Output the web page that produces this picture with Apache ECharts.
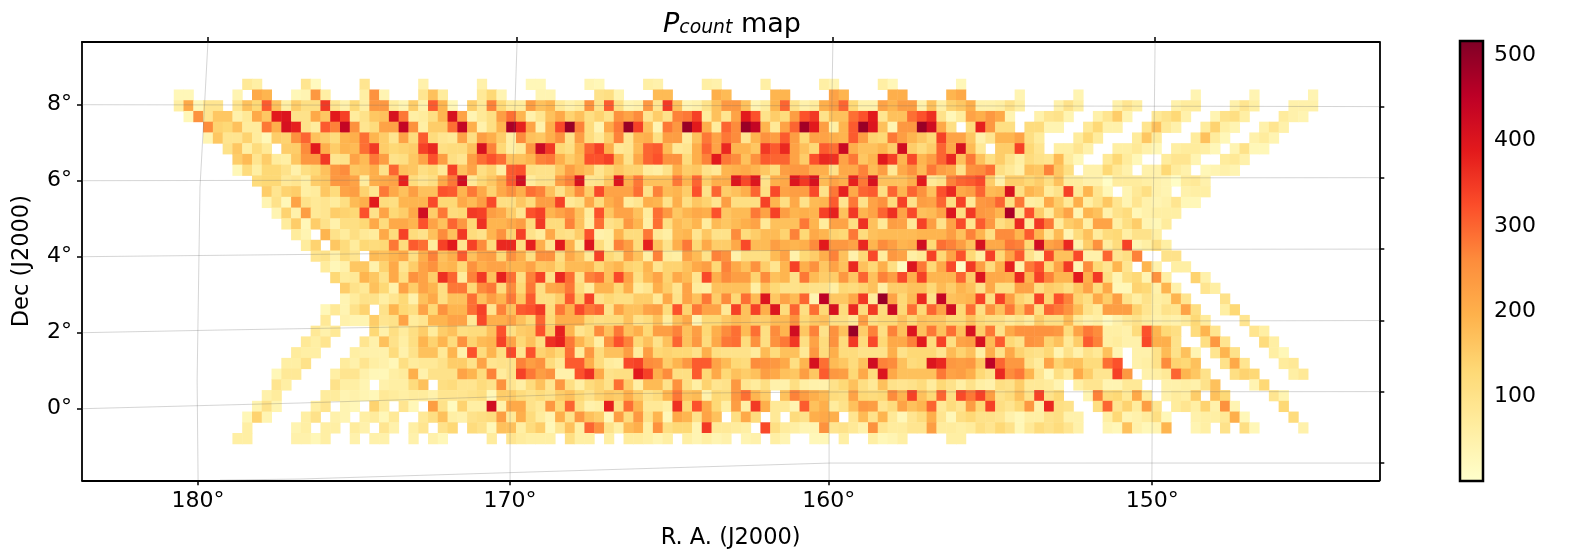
<!DOCTYPE html>
<html>
<head>
<meta charset="utf-8">
<script src="https://cdn.jsdelivr.net/npm/echarts@6/dist/echarts.min.js"></script>
<style>html,body{margin:0;background:#fff}#container{width:1577px;height:560px}</style>
</head>
<body>
<div id="container"></div>
<script>
// counts per map pixel, one list per row from the top, each starting at rowFirstColumn[row]
var rowFirstColumn = [7,0,0,1,3,3,5,6,6,8,9,9,10,11,12,13,14,15,16,17,17,15,15,14,13,12,11,10,10,9,8,7,7,6];
var row00 = [80,60,0,0,0,0,90,20,0,0,0,0,90,0,0,0,0,0,50,0,0,0,0,0,50,0,0,0,0,30,30,0,0,0,0,40,30,0,0,0,0,60,50,0,0,0,0,60,50,0,0,0,0,60,0,0,0,0,0,60,40,0,0,0,0,60,30,0,0,0,0,0,0,30];
var row01 = [30,30,0,0,0,0,40,0,210,190,0,0,30,40,240,60,0,0,0,60,250,40,0,0,0,90,170,70,0,0,0,80,130,40,0,0,0,40,40,0,0,0,0,100,110,40,0,0,0,180,180,0,0,0,0,200,180,0,0,0,0,190,190,0,0,0,0,220,190,0,0,0,0,200,200,0,0,0,0,190,210,0,0,0,0,0,40,0,0,0,0,0,40,0,0,0,0,0,0,0,0,0,0,0,40,0,0,0,0,0,40,0,0,0,0,0,40];
var row02 = [60,210,30,90,90,0,90,170,130,310,170,60,150,110,110,350,90,50,130,60,240,240,70,40,150,50,310,190,30,0,150,80,270,130,70,70,230,170,190,80,50,70,250,100,310,110,40,50,240,90,350,170,40,50,100,170,240,240,170,40,70,190,300,100,50,70,200,230,300,130,50,50,220,190,230,230,50,170,60,140,160,200,50,50,60,100,60,0,0,0,50,100,60,0,0,0,50,90,60,0,0,0,50,70,70,0,0,0,50,90,60,0,0,0,50,50,50];
var row03 = [30,250,90,160,160,50,80,210,160,390,400,100,100,210,160,390,340,70,100,160,170,410,280,60,70,110,190,410,220,40,80,110,230,290,190,50,90,170,210,140,170,110,140,100,250,220,260,90,150,100,270,280,340,70,170,90,220,390,320,100,150,120,230,320,350,100,170,170,290,320,390,90,170,170,290,320,360,100,30,70,220,200,240,210,40,0,0,50,90,100,40,0,0,50,90,150,40,0,0,80,100,130,50,0,0,40,100,110,60,0,0,0,70,50,40];
var row04 = [260,140,130,170,70,70,280,200,410,380,100,70,310,270,440,250,90,120,220,220,440,250,60,150,150,290,440,200,50,110,190,470,380,220,50,200,330,490,270,120,40,210,280,490,340,170,40,280,240,490,390,200,70,300,260,490,440,190,80,220,300,480,390,230,60,190,310,490,400,170,40,240,240,490,420,210,110,0,120,380,240,110,110,0,120,120,40,40,0,0,80,130,50,50,0,0,90,170,80,50,0,0,70,140,60,40,0,0,50,90,50];
var row05 = [40,160,90,90,140,70,30,150,140,250,300,170,150,120,190,200,290,190,150,90,220,120,310,120,90,80,220,110,230,200,150,60,260,170,160,200,250,100,230,120,80,150,270,90,190,200,110,230,230,70,170,280,220,280,260,90,190,250,230,310,230,130,220,220,200,190,310,230,140,130,280,230,190,160,130,340,220,220,160,50,90,190,190,220,110,70,0,0,0,70,130,70,0,0,0,70,160,70,0,0,0,70,170,70,30,0,0,50,70,40];
var row06 = [100,160,60,120,80,0,150,150,260,390,200,150,190,180,290,350,150,130,140,150,340,370,110,120,120,170,410,270,130,60,80,240,430,350,130,110,190,300,340,200,80,90,180,300,310,180,80,90,200,300,220,370,190,190,160,350,310,370,220,170,130,310,290,430,200,170,170,190,150,420,150,120,150,300,210,410,180,80,0,150,150,340,130,90,0,60,60,90,50,0,0,60,60,80,50,30,0,60,70,70,60,30,0,40,100,30,30];
var row07 = [150,180,90,150,70,60,160,240,240,350,90,100,220,180,280,230,100,110,160,220,320,230,110,90,230,290,320,290,170,170,190,270,280,200,150,180,320,320,340,190,100,210,300,320,250,250,120,200,270,390,280,260,170,250,310,300,300,220,150,320,370,360,220,280,160,190,390,340,190,330,190,230,300,370,170,280,170,110,150,100,60,120,100,90,180,70,30,0,0,80,130,70,30,0,0,70,90,90,40,0,0,70,80,50];
var row08 = [30,120,60,130,130,100,50,110,130,170,240,260,160,170,200,100,300,170,160,110,130,80,340,170,220,110,140,60,310,320,110,100,100,160,230,190,170,90,130,160,140,140,70,60,100,200,150,160,100,80,190,200,210,190,160,120,230,240,240,200,200,100,210,210,270,180,230,80,210,250,180,280,230,210,100,250,260,290,110,80,50,170,160,270,160,110,0,50,50,130,80,50,0,50,50,130,70,50,0,30,40,50,40];
var row09 = [120,130,130,80,90,60,150,160,240,240,220,70,200,210,220,380,120,90,110,210,280,420,80,130,160,210,310,420,70,100,100,230,270,410,90,100,160,400,200,280,170,170,170,280,190,300,150,200,200,400,330,400,100,200,210,400,350,410,180,220,200,380,280,410,170,170,170,200,390,80,100,270,300,310,330,150,50,150,150,130,150,110,170,70,70,50,50,10,70,70,70,60,50,40,10,70,80,50];
var row10 = [150,90,140,150,60,70,160,120,220,230,140,90,280,210,170,230,170,170,320,310,190,280,210,140,210,250,200,290,270,170,100,170,260,150,330,220,220,220,290,100,270,180,190,150,320,100,300,150,170,200,300,110,330,220,230,230,330,100,280,380,210,300,310,110,300,190,300,250,170,320,370,210,230,300,180,190,410,110,190,170,70,100,340,80,190,90,30,0,40,80,110,50,40,0,50,60,60];
var row11 = [40,100,30,220,100,80,90,70,110,180,200,390,120,110,190,190,190,330,130,130,210,180,230,330,110,110,160,120,230,230,340,80,100,210,120,200,230,70,90,200,190,100,200,110,160,140,90,230,110,110,110,340,190,110,210,100,180,190,310,90,280,100,220,250,120,340,100,230,220,300,110,340,80,240,250,300,110,280,60,70,210,150,80,200,60,100,160,90,40,90,50,40,50,90,30,30];
var row12 = [40,140,50,230,80,90,150,140,130,320,100,220,130,150,210,420,150,280,120,130,350,340,230,210,150,90,320,340,190,220,250,170,70,320,160,220,220,170,70,290,240,160,190,210,200,320,160,180,180,280,220,340,230,190,200,190,340,380,170,350,190,220,300,360,220,330,170,180,220,400,110,350,240,230,190,470,90,320,150,70,170,220,40,190,170,50,100,120,30,50,60,60,60];
var row13 = [70,150,30,150,100,50,110,110,130,210,120,210,210,190,320,220,170,300,240,130,360,190,190,210,230,120,350,120,120,270,170,60,290,100,120,240,190,60,290,110,180,160,190,70,180,160,180,200,220,80,170,170,170,280,190,70,220,220,110,360,170,80,230,220,80,340,230,100,220,330,90,310,240,110,140,370,70,350,280,70,150,170,60,220,220,60,110,150,40,30,70];
var row14 = [70,40,0,190,100,70,110,80,70,210,120,340,120,100,170,260,170,350,120,100,190,250,140,340,100,70,210,110,100,150,320,50,60,190,120,120,280,80,60,180,190,90,160,100,100,260,120,150,180,180,140,270,130,210,190,140,130,280,120,170,180,180,180,180,190,190,190,230,170,270,190,110,260,260,190,310,190,90,180,40,120,170,70,120,130,60,100,100,60];
var row15 = [70,140,0,160,120,70,130,120,130,280,120,310,290,70,340,390,90,340,260,120,370,370,110,380,200,90,390,200,70,400,120,60,270,230,120,380,170,100,200,280,130,210,150,150,210,330,180,180,230,200,190,200,260,390,240,240,220,370,190,260,230,190,200,420,130,290,270,230,170,410,210,210,280,270,130,420,220,240,370,50,150,250,70,120,340,40,60,110,60];
var row16 = [90,100,50,120,90,0,180,170,190,210,110,200,270,170,200,310,170,220,230,130,250,200,110,250,250,110,210,170,80,340,130,100,230,170,60,270,70,60,220,180,100,270,250,50,110,110,110,180,220,50,130,150,200,270,170,50,130,330,70,240,220,60,80,340,130,220,320,130,60,340,130,220,310,100,50,330,170,170,330,50,50,300,90,110,270,0,0,100,100];
var row17 = [70,30,50,160,160,50,140,210,90,150,220,250,180,190,130,250,200,220,220,190,190,220,160,170,130,180,180,190,130,170,190,140,130,190,90,140,140,170,210,230,130,270,210,170,250,150,90,190,340,200,250,160,220,170,370,170,130,200,110,20,400,280,130,210,330,10,350,230,120,200,380,50,280,320,130,220,350,40,260,130,90,190,90,0,190,50,0,60,60];
var row18 = [130,70,80,190,160,100,210,110,250,220,150,360,300,70,270,350,170,380,290,110,270,340,100,370,290,100,270,290,170,330,220,110,180,220,140,210,180,90,330,200,260,230,230,140,260,170,190,100,280,180,150,150,240,160,300,170,270,230,330,200,340,190,190,190,300,150,400,210,210,200,370,190,340,270,190,190,390,200,350,110,40,110,130,40,250,60,0,0,140,50];
var row19 = [150,100,80,170,130,50,220,150,220,190,110,280,280,130,260,280,120,260,130,280,110,210,220,280,120,70,190,190,130,200,70,90,200,150,90,220,70,60,170,170,170,170,60,170,130,100,100,110,100,100,60,130,120,140,170,60,150,150,170,170,130,180,150,190,170,100,210,110,110,220,220,110,150,140,110,160,220,120,210,30,30,140,130,50,190,50,0,0,90,60];
var row20 = [40,70,100,100,60,90,130,50,170,210,110,170,170,290,170,230,190,280,160,310,110,110,150,310,150,340,100,130,110,110,150,150,80,210,100,220,170,280,150,260,130,290,180,400,160,220,180,300,40,450,160,160,210,350,70,490,220,130,180,370,100,440,170,180,190,340,110,340,230,140,110,340,140,320,270,140,110,210,150,230,100,60,100,60,70,190,90,0,0,0,100];
var row21 = [30,80,40,100,140,0,100,190,130,110,220,130,250,190,190,290,340,90,270,170,310,320,350,120,280,200,330,280,300,100,220,170,170,220,230,120,320,140,280,220,220,80,340,170,340,200,400,120,300,110,290,130,410,120,370,120,350,120,430,130,290,130,300,220,420,130,290,110,250,170,280,170,280,110,300,280,250,180,100,70,230,230,230,140,90,60,100,90,220,110,0,0,60,130];
var row22 = [80,0,50,40,40,150,90,100,220,70,90,190,190,220,220,80,330,200,200,220,170,130,300,130,200,200,200,130,110,120,120,170,100,120,170,70,170,210,40,130,130,160,180,170,150,150,180,180,250,130,160,170,110,110,80,230,110,130,130,170,130,170,160,160,130,130,170,130,110,110,80,100,70,150,110,110,180,80,50,60,20,50,80,100,70,50,60,50,70,130,70,0,0,0,90];
var row23 = [80,50,80,0,0,0,130,50,110,70,110,150,70,150,170,110,120,120,170,320,110,150,160,320,150,380,190,90,120,260,170,280,170,200,130,230,230,270,170,230,130,200,260,290,180,290,110,260,190,420,160,270,100,250,170,490,150,270,110,270,170,400,170,280,170,290,170,410,150,280,100,210,250,250,250,250,240,120,220,280,260,60,60,50,120,320,190,130,110,0,120,190,90,0,0,0,90,60];
var row24 = [80,60,90,0,0,0,90,50,170,100,60,110,190,140,190,120,250,140,180,190,340,220,130,170,110,360,380,280,190,140,60,250,320,270,130,170,100,170,300,170,240,120,210,280,290,120,250,110,250,280,350,110,220,120,250,120,350,120,330,130,210,210,270,390,120,340,110,220,230,410,180,310,130,100,250,240,140,170,80,150,310,270,60,70,50,50,330,200,200,100,0,0,110,240,90,0,0,0,120,60];
var row25 = [70,60,60,0,0,0,60,50,50,50,120,50,100,170,170,80,190,50,320,120,190,110,330,90,320,140,160,130,290,70,240,120,170,170,230,70,230,130,140,130,130,100,200,110,100,100,100,70,180,120,170,170,80,240,120,200,120,120,100,100,100,200,100,130,130,130,90,180,140,170,60,200,100,210,140,110,100,130,40,100,50,100,80,170,40,0,50,50,100,180,100,170,40,0,90,190,100,0,0,0,60,30];
var row26 = [60,60,100,0,0,0,70,50,90,60,50,30,110,70,80,80,100,150,150,100,220,90,100,100,270,230,250,120,80,310,310,200,120,70,60,330,340,260,250,150,190,240,310,310,220,180,130,120,260,250,240,210,110,190,410,290,180,160,120,170,420,270,260,170,120,130,400,370,240,230,240,160,450,300,240,240,100,70,220,140,170,170,120,120,290,320,0,50,60,100,260,140,130,170,0,0,100,210,90,0,0,0,70,80];
var row27 = [30,80,80,0,0,0,60,90,90,50,30,30,60,70,200,50,100,100,100,220,190,120,270,70,100,340,280,230,250,50,50,320,360,210,100,110,110,390,340,200,260,110,110,310,130,210,130,170,150,170,230,210,170,160,230,160,310,240,230,130,210,120,400,210,170,170,170,170,280,220,230,200,130,100,370,260,280,190,90,30,110,70,210,150,90,90,340,240,0,50,60,80,300,190,160,100,0,0,110,140,130,0,0,0,60,80];
var row28 = [90,60,0,0,0,0,100,60,60,40,0,50,60,60,120,170,0,110,120,90,90,120,100,250,90,60,120,170,90,240,110,60,120,140,100,290,150,60,180,180,100,250,110,60,140,90,100,240,90,70,110,50,50,110,60,50,50,100,130,170,110,80,170,100,90,100,120,70,130,100,60,100,60,50,110,100,150,80,80,70,40,0,60,90,90,40,40,80,80,0,0,50,50,60,50,100,170,0,0,0,40,130];
var row29 = [50,70,0,0,0,0,70,70,40,50,40,30,80,70,60,70,70,50,90,90,90,100,110,30,150,150,120,100,120,100,150,170,130,100,140,160,150,200,150,100,120,190,280,170,180,50,130,120,240,290,190,150,0,170,270,230,200,180,120,110,220,130,120,130,260,190,340,170,130,300,110,330,280,340,230,100,120,170,100,340,100,130,0,0,40,270,120,130,80,210,70,0,50,70,60,150,0,170,130,0,0,0,0,90,40];
var row30 = [40,100,40,0,0,0,60,90,0,40,30,0,140,70,0,90,30,0,230,100,20,140,60,60,420,50,210,210,100,80,240,130,300,110,50,60,380,110,290,190,80,80,60,360,130,320,210,130,60,230,60,350,200,80,80,40,310,170,200,70,100,170,240,230,90,120,220,170,190,300,80,120,90,230,130,340,110,90,130,240,50,370,110,100,0,0,110,300,90,140,70,230,90,0,70,90,60,140,50,250,40,0,0,0,0,130];
var row31 = [30,140,40,0,0,0,60,100,0,50,40,0,60,70,30,80,0,0,80,110,170,60,50,100,110,120,230,80,200,120,70,40,200,100,240,170,150,30,230,120,240,100,190,30,210,190,100,220,170,0,110,210,120,0,80,0,120,100,200,210,200,0,90,180,100,190,80,30,90,120,200,90,30,110,130,100,100,90,50,30,60,60,100,110,50,50,0,0,60,130,40,50,70,110,30,0,0,50,60,60,80,200,30,0,0,0,0,120];
var row32 = [60,0,0,0,0,40,60,0,60,60,0,70,50,0,90,50,0,60,90,0,100,130,0,120,100,30,170,170,60,120,150,30,90,170,60,300,250,100,60,180,200,60,250,110,130,130,40,350,80,80,70,60,0,330,110,70,60,40,40,250,90,100,80,50,250,90,70,70,90,90,230,70,70,60,70,110,90,130,100,30,80,120,100,120,90,50,0,0,40,30,170,50,30,40,190,0,0,40,60,0,100,0,110,30,0,0,0,0,50];
var row33 = [60,60,0,0,0,0,50,50,30,60,0,0,50,0,50,50,0,0,50,0,50,30,0,0,0,0,70,0,90,70,60,60,60,0,110,60,60,0,60,0,70,70,60,40,60,0,60,40,60,40,50,0,40,50,0,60,40,0,0,30,30,0,60,0,0,60,30,40,60,0,0,0,0,60,60];
var countRows = [row00,row01,row02,row03,row04,row05,row06,row07,row08,row09,row10,row11,row12,row13,row14,row15,row16,row17,row18,row19,row20,row21,row22,row23,row24,row25,row26,row27,row28,row29,row30,row31,row32,row33];

var raTicks = [180, 170.19, 160.17, 150];
var raTickLabels = ['180°', '170°', '160°', '150°'];
var raTicksTop = [179.69, 169.97, 160.04, 149.91];
var decTicks = [8, 6, 4, 2, 0];
var decTickLabels = ['8°', '6°', '4°', '2°', '0°'];
var decTicksRight = [7.95, 6.08, 4.20, 2.32, 0.45, -1.43];
var colorbarTicks = [100, 200, 300, 400, 500];
var ylOrRd = ['#ffffcc','#ffeda0','#fed976','#feb24c','#fd8d3c','#fc4e2a','#e31a1c','#bd0026','#800026'];

// sky grid, [R.A., Dec] along each curve
var gridDec8 = [[183.65,8],[169.56,7.98],[156.99,7.97],[142.84,7.95]];
var gridDec6 = [[183.65,6],[169.56,6.02],[156.99,6.07],[142.84,6.08]];
var gridDec4 = [[183.65,4],[169.56,4.12],[156.99,4.19],[142.84,4.2]];
var gridDec2 = [[183.65,2],[179.31,2.07],[173.65,2.15],[167.68,2.23],[160.13,2.29],[142.84,2.32]];
var gridDec0 = [[183.65,0],[176.79,0.15],[167.68,0.39],[160.13,0.44],[142.84,0.45]];
var gridDecM2 = [[179.31,-1.88],[176.79,-1.85],[167.36,-1.61],[160.13,-1.43],[142.84,-1.43]];
var gridRa180 = [[179.69,9.65],[179.84,7.33],[179.94,5.83],[180.03,0.76],[180,-1.88]];
var gridRa170 = [[169.97,9.65],[170,8.91],[170.19,3.91],[170.19,-1.88]];
var gridRa160 = [[160.04,9.65],[160.07,8.12],[160.13,4.18],[160.16,0.23],[160.16,-1.88]];
var gridRa150 = [[149.91,9.65],[149.98,4.18],[150.01,-1.88]];
var skyGrid = [gridDec8,gridDec6,gridDec4,gridDec2,gridDec0,gridDecM2,gridRa180,gridRa170,gridRa160,gridRa150];

var columnCount = 117;
var columns = [], rows = [], cells = [];
for (var i = 0; i < columnCount; i++) columns.push(String(i));
countRows.forEach(function (r, y) {
    rows.push(String(y));
    r.forEach(function (v, k) {
        if (v > 0) cells.push([rowFirstColumn[y] + k, y, v]);
    });
});

var font = 'DejaVu Sans';
var tick = { show: true, length: 5, lineStyle: { color: '#000', width: 1.5 } };
var frameLine = { show: true, onZero: false, lineStyle: { color: '#000', width: 1.8 } };

var myChart = echarts.init(document.getElementById('container'), null, { renderer: 'canvas' });

var series = [{
    type: 'heatmap',
    xAxisIndex: 0,
    yAxisIndex: 0,
    data: cells,
    progressive: 0,
    silent: true,
    z: 2
}];
skyGrid.forEach(function (line) {
    series.push({
        type: 'line',
        xAxisIndex: 1,
        yAxisIndex: 1,
        data: line,
        showSymbol: false,
        silent: true,
        lineStyle: { color: 'rgba(110,110,110,0.32)', width: 0.9 },
        z: 3
    });
});

myChart.setOption({
    animation: false,
    backgroundColor: '#fff',
    title: {
        text: '{p|P}{sub|count}{m| map}',
        left: 727,
        top: 1,
        textAlign: 'center',
        textStyle: {
            fontWeight: 'normal',
            rich: {
                p: { fontFamily: font, fontStyle: 'italic', fontWeight: 'normal', fontSize: 27, color: '#000', verticalAlign: 'bottom', lineHeight: 32 },
                sub: { fontFamily: font, fontStyle: 'italic', fontWeight: 'normal', fontSize: 18.8, color: '#000', verticalAlign: 'bottom', lineHeight: 20, padding: [8, 0, 0, 0] },
                m: { fontFamily: font, fontWeight: 'normal', fontSize: 27, color: '#000', verticalAlign: 'bottom', lineHeight: 32 }
            }
        }
    },
    grid: [
        { left: 174, top: 79, width: 1144, height: 365 },
        { left: 82, top: 42, width: 1297.3, height: 438.3 },
        { left: 1460, top: 41, width: 23, height: 440, show: true, z: 10, borderColor: '#000', borderWidth: 2.5, backgroundColor: 'transparent' }
    ],
    xAxis: [
        { type: 'category', gridIndex: 0, data: columns, show: false },
        {
            type: 'value', gridIndex: 1, position: 'bottom', inverse: true, min: 142.86, max: 183.65,
            splitLine: { show: false }, axisLine: frameLine, axisTick: Object.assign({ customValues: raTicks }, tick),
            axisLabel: {
                customValues: raTicks, color: '#000', fontFamily: font, fontSize: 22, margin: 10, showMinLabel: true, showMaxLabel: true,
                formatter: function (v) { return raTickLabels[raTicks.indexOf(v)]; }
            },
            name: 'R. A. (J2000)', nameLocation: 'middle', nameGap: 46,
            nameTextStyle: { color: '#000', fontFamily: font, fontSize: 22.5 }
        },
        {
            type: 'value', gridIndex: 1, position: 'top', inverse: true, min: 142.86, max: 183.65,
            splitLine: { show: false }, axisLine: frameLine, axisTick: Object.assign({ customValues: raTicksTop }, tick),
            axisLabel: { show: false }
        },
        { type: 'value', gridIndex: 2, show: false, min: 0, max: 1 }
    ],
    yAxis: [
        { type: 'category', gridIndex: 0, data: rows, inverse: true, show: false },
        {
            type: 'value', gridIndex: 1, position: 'left', min: -1.884, max: 9.65,
            splitLine: { show: false }, axisLine: frameLine, axisTick: Object.assign({ customValues: decTicks }, tick),
            axisLabel: {
                customValues: decTicks, color: '#000', fontFamily: font, fontSize: 22, margin: 10,
                formatter: function (v) { return decTickLabels[decTicks.indexOf(v)]; }
            },
            name: 'Dec (J2000)', nameLocation: 'middle', nameGap: 48,
            nameTextStyle: { color: '#000', fontFamily: font, fontSize: 22.5 }
        },
        {
            type: 'value', gridIndex: 1, position: 'right', min: -1.884, max: 9.65,
            splitLine: { show: false }, axisLine: frameLine, axisTick: Object.assign({ customValues: decTicksRight }, tick),
            axisLabel: { show: false }
        },
        {
            type: 'value', gridIndex: 2, position: 'right', min: 1.2, max: 516.7,
            splitLine: { show: false }, axisLine: { show: false }, axisTick: Object.assign({ customValues: colorbarTicks }, tick),
            axisLabel: { customValues: colorbarTicks, color: '#000', fontFamily: font, fontSize: 22, margin: 11, padding: [4, 0, 0, 0] }
        }
    ],
    visualMap: {
        type: 'continuous',
        seriesIndex: 0,
        min: 1.2,
        max: 516.7,
        left: 1460,
        top: 41,
        padding: 0,
        itemWidth: 23,
        itemHeight: 440,
        calculable: false,
        hoverLink: false,
        inRange: { color: ylOrRd }
    },
    series: series
});
</script>
</body>
</html>
